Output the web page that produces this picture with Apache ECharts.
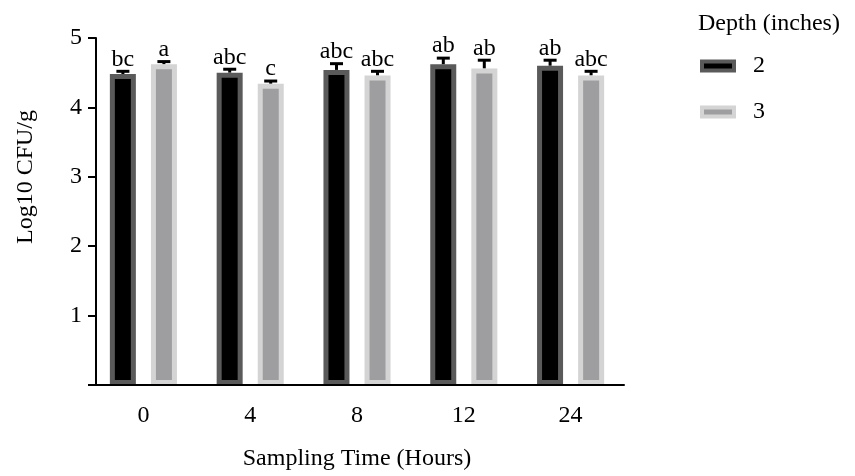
<!DOCTYPE html>
<html>
<head>
<meta charset="utf-8">
<script src="https://cdn.jsdelivr.net/npm/echarts@6/dist/echarts.min.js"></script>
<style>
  html, body { margin: 0; padding: 0; background: #fff; }
  #chart { width: 855px; height: 476px; }
</style>
</head>
<body>
<div id="chart"></div>
<script>
'use strict';

// sampling times (hours)
var hours = ['0', '4', '8', '12', '24'];

// 2 inch depth
var depth2Mean = [4.48, 4.50, 4.54, 4.62, 4.60];
var depth2Err = [0.04, 0.05, 0.09, 0.09, 0.08];
var depth2Letters = ['bc', 'abc', 'abc', 'ab', 'ab'];

// 3 inch depth
var depth3Mean = [4.62, 4.34, 4.46, 4.56, 4.46];
var depth3Err = [0.04, 0.04, 0.06, 0.12, 0.06];
var depth3Letters = ['a', 'c', 'abc', 'ab', 'abc'];

var yTicks = [0, 1, 2, 3, 4, 5];

var serif = '"Liberation Serif", "Times New Roman", serif';

// error bar + letter above it, shifted to sit over its own bar
function errorBars(offset, letters) {
    return function (params, api) {
        var i = params.dataIndex;
        var base = api.coord([api.value(0), api.value(1)]);
        var top = api.coord([api.value(0), api.value(1) + api.value(2)]);
        var x = base[0] + offset;
        return {
            type: 'group',
            children: [
                { type: 'line', shape: { x1: x, y1: base[1], x2: x, y2: top[1] }, style: { stroke: '#000', lineWidth: 3 } },
                { type: 'line', shape: { x1: x - 6.5, y1: top[1], x2: x + 6.5, y2: top[1] }, style: { stroke: '#000', lineWidth: 3 } },
                {
                    type: 'text', x: x, y: top[1],
                    style: { text: letters[i], font: '24px ' + serif, fill: '#000', align: 'center', verticalAlign: 'bottom' }
                }
            ]
        };
    };
}

var myChart = echarts.init(document.getElementById('chart'));

var option = {
    animation: false,
    title: {
        text: 'Depth (inches)',
        left: 693,
        top: 7,
        textStyle: { fontFamily: serif, fontSize: 24, fontWeight: 'normal', color: '#000' }
    },
    legend: {
        data: ['2', '3'],
        orient: 'vertical',
        left: 695,
        top: 49,
        icon: 'rect',
        itemWidth: 32,
        itemHeight: 9,
        itemGap: 22,
        itemStyle: { borderWidth: 4 },
        textStyle: { fontFamily: serif, fontSize: 24, color: '#000', padding: [0, 0, 0, 14] }
    },
    grid: { left: 90, right: 231, top: 38, bottom: 88 },
    xAxis: {
        type: 'category',
        data: hours,
        z: 5,
        name: 'Sampling Time (Hours)',
        nameLocation: 'middle',
        nameGap: 62,
        nameTextStyle: { fontFamily: serif, fontSize: 24, color: '#000' },
        axisLine: { lineStyle: { color: '#000', width: 2 } },
        axisTick: { alignWithLabel: true, length: 8, lineStyle: { color: '#000', width: 2 } },
        axisLabel: { margin: 19, fontFamily: serif, fontSize: 24, color: '#000' }
    },
    yAxis: {
        type: 'value',
        min: yTicks[0],
        max: yTicks[yTicks.length - 1],
        interval: 1,
        offset: -6,
        z: 5,
        name: 'Log10 CFU/g',
        nameLocation: 'middle',
        nameGap: 58,
        nameTextStyle: { fontFamily: serif, fontSize: 24, color: '#000', padding: [0, 0, 0, 69] },
        splitLine: { show: false },
        axisLine: { show: true, lineStyle: { color: '#000', width: 2 } },
        axisTick: { show: true, length: 8, lineStyle: { color: '#000', width: 2 } },
        axisLabel: {
            margin: 14, fontFamily: serif, fontSize: 24, color: '#000',
            formatter: function (v) { return v === 0 ? '' : v; }
        }
    },
    series: [
        {
            name: '2',
            type: 'bar',
            z: 2,
            barWidth: 26,
            barGap: '58%',
            itemStyle: { color: '#000', borderColor: '#5a5a5a', borderWidth: 5 },
            data: depth2Mean
        },
        {
            name: '3',
            type: 'bar',
            z: 2,
            barWidth: 26,
            itemStyle: { color: '#9e9ea1', borderColor: '#d4d4d4', borderWidth: 5 },
            data: depth3Mean
        },
        {
            name: '2 sem',
            type: 'custom',
            z: 1,
            renderItem: errorBars(-20.5, depth2Letters),
            data: depth2Mean.map(function (m, i) { return [i, m, depth2Err[i]]; })
        },
        {
            name: '3 sem',
            type: 'custom',
            z: 1,
            renderItem: errorBars(20.5, depth3Letters),
            data: depth3Mean.map(function (m, i) { return [i, m, depth3Err[i]]; })
        }
    ]
};

myChart.setOption(option);
</script>
</body>
</html>
